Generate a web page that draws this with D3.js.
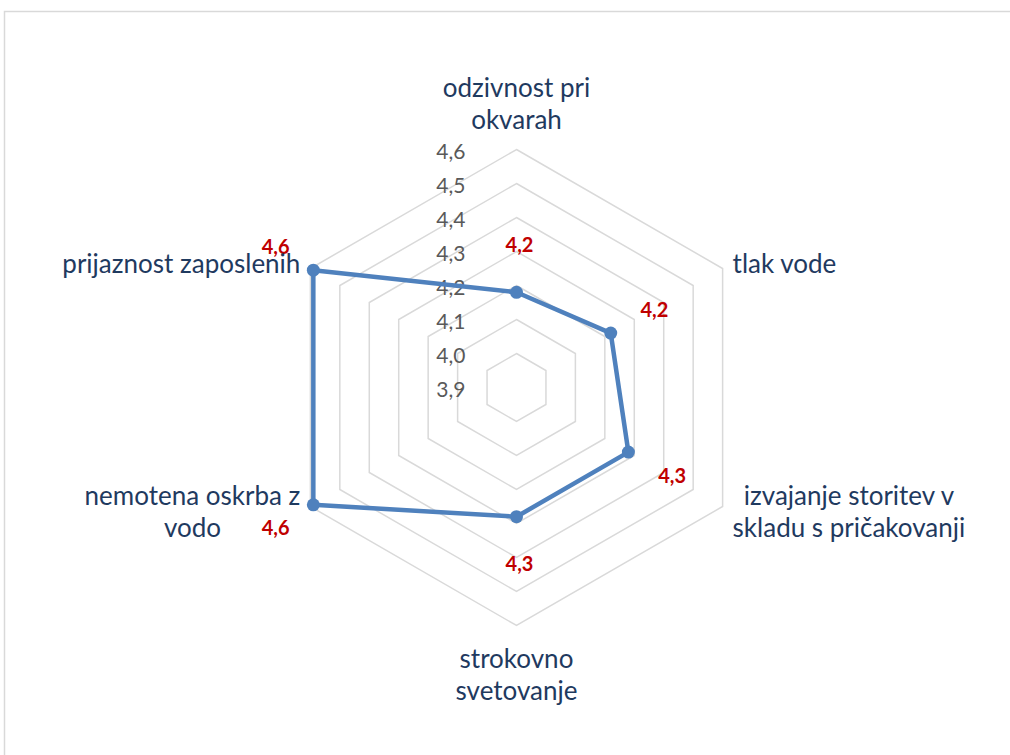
<!DOCTYPE html>
<html>
<head>
<meta charset="utf-8">
<script src="https://cdn.jsdelivr.net/npm/d3@7"></script>
<style>
  html, body { margin: 0; padding: 0; background: #fff; }
  svg { display: block; }
</style>
</head>
<body>
<div id="chart"></div>
<script>
// categories (clockwise from the top), one label line per entry
const categories = [
  ["odzivnost pri", "okvarah"],
  ["tlak vode"],
  ["izvajanje storitev v", "skladu s pričakovanji"],
  ["strokovno", "svetovanje"],
  ["nemotena oskrba z", "vodo"],
  ["prijaznost zaposlenih"]
];
const values = [4.18, 4.22, 4.28, 4.28, 4.59, 4.59];
const tickValues = [3.9, 4.0, 4.1, 4.2, 4.3, 4.4, 4.5, 4.6];

const width = 1010, height = 755;
const cx = 516.5, cy = 387.5, R = 238;
const font = "Lato, 'Open Sans', sans-serif";
const fmt = v => d3.format(".1f")(v).replace(".", ",");

const svg = d3.select("#chart").append("svg")
  .attr("width", width)
  .attr("height", height)
  .attr("viewBox", [0, 0, width, height]);

// chart area outline
svg.append("rect")
  .attr("x", 4.5).attr("y", 11.5)
  .attr("width", width + 20).attr("height", height + 20)
  .attr("fill", "none")
  .attr("stroke", "#d9d9d9")
  .attr("stroke-width", 1.5);

const r = d3.scaleLinear()
  .domain(d3.extent(tickValues))
  .range([0, R]);

const angle = d3.scalePoint()
  .domain(d3.range(categories.length))
  .range([0, 2 * Math.PI - 2 * Math.PI / categories.length]);

const px = (i, v) => cx + r(v) * Math.sin(angle(i));
const py = (i, v) => cy - r(v) * Math.cos(angle(i));

const ring = d3.line().curve(d3.curveLinearClosed);

// grid hexagons
svg.append("g")
  .attr("fill", "none")
  .attr("stroke", "#d9d9d9")
  .attr("stroke-width", 1.5)
  .selectAll("path")
  .data(tickValues.slice(1))
  .join("path")
  .attr("d", t => ring(categories.map((c, i) => [px(i, t), py(i, t)])));

// value axis labels
svg.append("g")
  .attr("font-family", font)
  .attr("font-size", 21)
  .attr("fill", "#595959")
  .attr("text-anchor", "end")
  .selectAll("text")
  .data(tickValues)
  .join("text")
  .attr("x", cx - 51)
  .attr("y", t => cy - r(t) + 9)
  .text(fmt);

// series
const pts = values.map((v, i) => [px(i, v), py(i, v)]);

svg.append("path")
  .attr("d", ring(pts))
  .attr("fill", "none")
  .attr("stroke", "#4f81bd")
  .attr("stroke-width", 4.5)
  .attr("stroke-linejoin", "round");

svg.append("g")
  .selectAll("circle")
  .data(pts)
  .join("circle")
  .attr("cx", d => d[0])
  .attr("cy", d => d[1])
  .attr("r", 6.5)
  .attr("fill", "#4f81bd");

// data labels
svg.append("g")
  .attr("font-family", font)
  .attr("font-size", 20)
  .attr("font-weight", "bold")
  .attr("fill", "#c00000")
  .attr("text-anchor", "middle")
  .selectAll("text")
  .data(values)
  .join("text")
  .attr("x", (v, i) => px(i, v) + 47 * Math.sin(angle(i)) + 3)
  .attr("y", (v, i) => py(i, v) - 47 * Math.cos(angle(i)) + 7)
  .text(fmt);

// category labels
const lineH = 32;
const catG = svg.append("g")
  .attr("font-family", font)
  .attr("font-size", 26)
  .attr("fill", "#1f3a5f");

categories.forEach((lines, i) => {
  const a = angle(i);
  const vx = px(i, 4.6), vy = py(i, 4.6);
  const s = Math.sin(a);
  const g = catG.append("g");
  const texts = g.selectAll("text")
    .data(lines)
    .join("text")
    .attr("text-anchor", "middle")
    .text(d => d);
  const w = d3.max(texts.nodes(), n => n.getComputedTextLength());
  let x, y0;
  if (Math.abs(s) < 0.01) {
    x = cx;
    y0 = Math.cos(a) > 0 ? vy - 21 - (lines.length - 1) * lineH : vy + 42;
  } else {
    x = s > 0 ? vx + 10 + w / 2 : vx - 10 - w / 2;
    y0 = vy + 4 - (lines.length - 1) * 5.5;
  }
  texts.attr("x", x).attr("y", (d, k) => y0 + k * lineH);
});
</script>
</body>
</html>
